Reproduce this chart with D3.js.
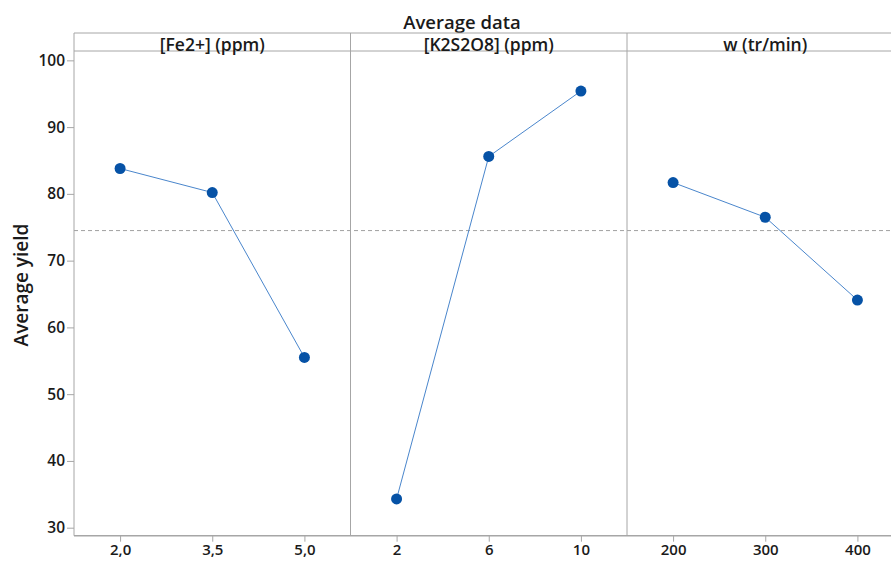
<!DOCTYPE html>
<html>
<head>
<meta charset="utf-8">
<script src="https://cdn.jsdelivr.net/npm/d3@7"></script>
<style>
  body { margin: 0; background: #fff; }
  svg { display: block; }
  svg text { font-family: "Open Sans", "Noto Sans", sans-serif; }
</style>
</head>
<body>
<div id="vis"></div>
<script>
const W = 891, H = 561;

// Data
const factors = ["[Fe2+] (ppm)", "[K2S2O8] (ppm)", "w (tr/min)"];
const levels = [
  ["2,0", "3,5", "5,0"],
  ["2", "6", "10"],
  ["200", "300", "400"]
];
const means = [
  [83.8, 80.2, 55.5],
  [34.3, 85.6, 95.4],
  [81.7, 76.5, 64.1]
];
const overallMean = 74.5;
const yTicks = [30, 40, 50, 60, 70, 80, 90, 100];

// Layout
const plotLeft = 74;
const panelW = 276.5;
const headerTop = 33;
const plotTop = 51;
const plotBottom = 535.7;
const axisColor = "#a6a6a6";
const textColor = "#1a1a1a";

const svg = d3.select("#vis").append("svg")
  .attr("width", W)
  .attr("height", H);

const y = d3.scaleLinear()
  .domain([28.8, 101.4])
  .range([plotBottom, plotTop]);

// Title
svg.append("text")
  .attr("x", 462)
  .attr("y", 28.5)
  .attr("text-anchor", "middle")
  .style("font-size", "18.5px")
  .style("font-weight", 600)
  .attr("fill", textColor)
  .text("Average data");

// Y axis label
svg.append("text")
  .attr("transform", `translate(28, 285) rotate(-90)`)
  .attr("text-anchor", "middle")
  .style("font-size", "19px")
  .style("font-weight", 600)
  .attr("fill", textColor)
  .text("Average yield");

// Y axis
const yAxis = svg.append("g")
  .attr("transform", `translate(${plotLeft},0)`)
  .call(d3.axisLeft(y).tickValues(yTicks).tickSize(7).tickPadding(2));
yAxis.select(".domain").remove();
yAxis.selectAll(".tick line").attr("stroke", axisColor);
yAxis.selectAll(".tick text")
  .style("font-family", "'Open Sans', sans-serif")
  .style("font-size", "15.5px")
  .style("font-weight", 600)
  .attr("fill", textColor);

// Header band lines
const rightEdge = plotLeft + panelW * factors.length;
svg.append("line")
  .attr("x1", plotLeft).attr("x2", rightEdge)
  .attr("y1", headerTop).attr("y2", headerTop)
  .attr("stroke", axisColor);
svg.append("line")
  .attr("x1", plotLeft).attr("x2", rightEdge)
  .attr("y1", plotTop).attr("y2", plotTop)
  .attr("stroke", axisColor);

// Bottom axis line
svg.append("line")
  .attr("x1", plotLeft).attr("x2", rightEdge)
  .attr("y1", plotBottom).attr("y2", plotBottom)
  .attr("stroke", axisColor)
  .attr("stroke-width", 1.5);

// Reference line (overall mean)
svg.append("line")
  .attr("x1", plotLeft).attr("x2", rightEdge)
  .attr("y1", y(overallMean)).attr("y2", y(overallMean))
  .attr("stroke", "#a0a0a0")
  .attr("stroke-dasharray", "4,3");

factors.forEach((name, i) => {
  const x0 = plotLeft + panelW * i;
  const x = d3.scalePoint()
    .domain(levels[i])
    .range([x0, x0 + panelW])
    .padding(0.5);

  // panel divider
  svg.append("line")
    .attr("x1", x0).attr("x2", x0)
    .attr("y1", headerTop).attr("y2", plotBottom)
    .attr("stroke", axisColor);

  // header text
  svg.append("text")
    .attr("x", x0 + panelW / 2)
    .attr("y", 50.5)
    .attr("text-anchor", "middle")
    .style("font-size", "17.5px")
    .style("font-weight", 600)
    .attr("fill", textColor)
    .text(name);

  // x axis
  const xAxis = svg.append("g")
    .attr("transform", `translate(0,${plotBottom})`)
    .call(d3.axisBottom(x).tickSize(6).tickPadding(3));
  xAxis.select(".domain").remove();
  xAxis.selectAll(".tick line").attr("stroke", axisColor);
  xAxis.selectAll(".tick text")
    .style("font-family", "'Open Sans', sans-serif")
    .style("font-size", "15px")
    .style("font-weight", 600)
    .attr("fill", textColor);

  const pts = levels[i].map((lv, j) => ({ lv, v: means[i][j] }));

  svg.append("path")
    .datum(pts)
    .attr("fill", "none")
    .attr("stroke", "#4a86cc")
    .attr("stroke-width", 1)
    .attr("d", d3.line().x(d => x(d.lv)).y(d => y(d.v)));

  svg.append("g")
    .selectAll("circle")
    .data(pts)
    .join("circle")
    .attr("cx", d => x(d.lv))
    .attr("cy", d => y(d.v))
    .attr("r", 5.5)
    .attr("fill", "#0652a6");
});
</script>
</body>
</html>
